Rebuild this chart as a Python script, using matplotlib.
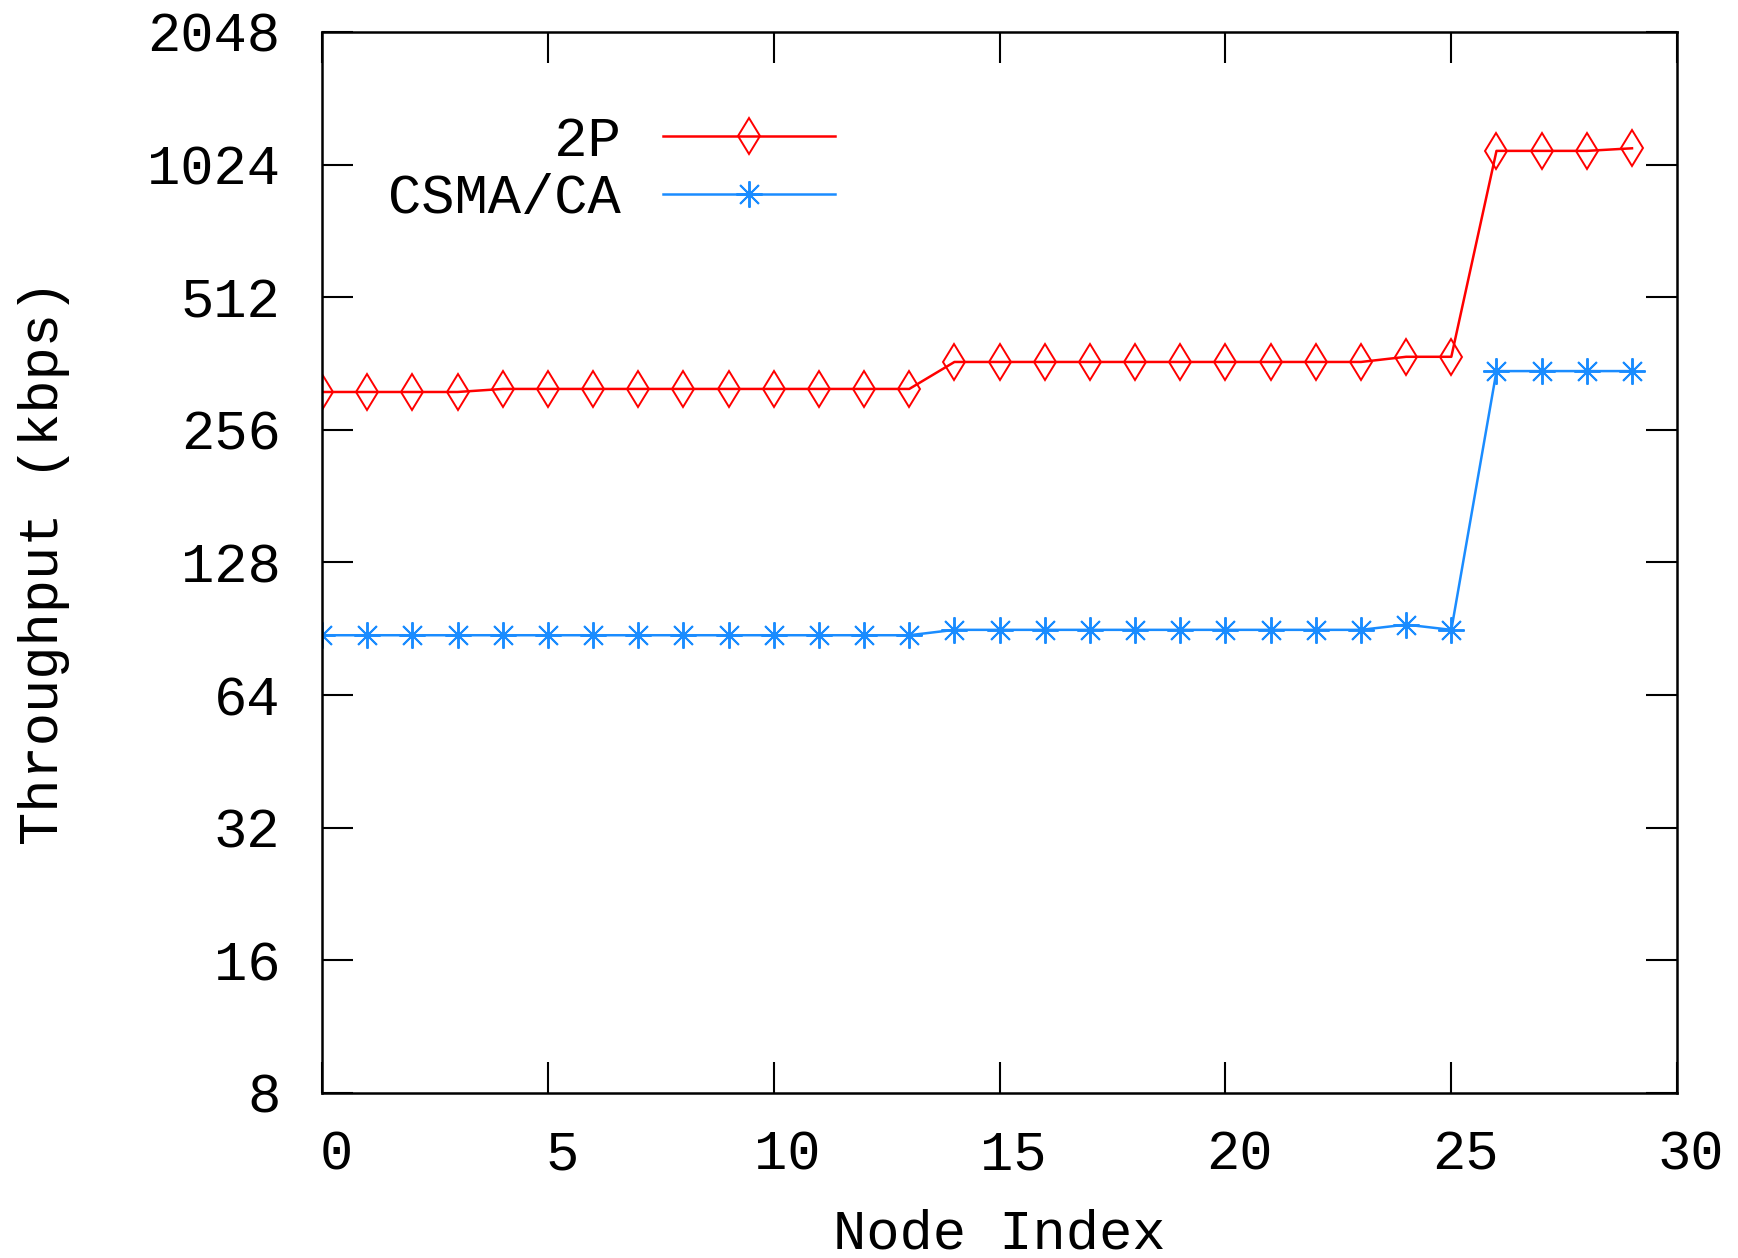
import matplotlib
matplotlib.use('Agg')
import matplotlib.pyplot as plt
import matplotlib.transforms as mtransforms
import numpy as np

# node index 0..29
nodes = list(range(30))
tp_2p = [312] * 4 + [317] * 10 + [365] * 10 + [375, 375] + [1100, 1100, 1100, 1115]
tp_csma = [87.5] * 14 + [90] * 10 + [92.5, 90] + [348] * 4

y_ticks = [8, 16, 32, 64, 128, 256, 512, 1024, 2048]
x_ticks = [0, 5, 10, 15, 20, 25, 30]

plt.rcParams['font.family'] = ['Liberation Mono', 'DejaVu Sans Mono']
FS = 40

fig = plt.figure(figsize=(17.38, 12.58), dpi=100)
ax = fig.add_axes([0.1853, 0.1312, 0.965 - 0.1853, 0.9746 - 0.1312])

ax.plot(nodes, tp_2p, color='#ff0000', lw=1.8, marker='d', ms=18,
        mfc='none', mec='#ff0000', mew=1.4, label='     2P')
ax.plot(nodes, tp_csma, color='#1a8cff', lw=1.8, marker=(8, 2, 0), ms=19,
        mec='#1a8cff', mew=1.4, label='CSMA/CA')

ax.set_yscale('log', base=2)
ax.set_ylim(8, 2048)
ax.set_xlim(0, 30)
ax.set_yticks(y_ticks)
ax.set_yticklabels([str(v) for v in y_ticks])
ax.set_xticks(x_ticks)
ax.set_xticklabels([str(v) for v in x_ticks])
ax.minorticks_off()
ax.tick_params(direction='in', length=22, width=1.5, top=True, right=True,
               labelsize=FS)
ax.tick_params(axis='y', pad=30)
ax.tick_params(axis='x', pad=26)
# gnuplot-style x labels sit a little right of their ticks
shift = mtransforms.ScaledTranslation(10 / 72, 0, fig.dpi_scale_trans)
for lbl in ax.get_xticklabels():
    lbl.set_transform(lbl.get_transform() + shift)
for sp in ax.spines.values():
    sp.set_linewidth(1.8)

ax.set_xlabel('Node Index', fontsize=FS, labelpad=20)
ax.set_ylabel('Throughput (kbps)', fontsize=FS, labelpad=56)

ax.legend(loc='upper left', bbox_to_anchor=(0.012, 0.968), frameon=False,
          markerfirst=False, handlelength=3.1, handletextpad=0.75,
          labelspacing=0.1, fontsize=FS)

fig.savefig('out.png', dpi=100)
